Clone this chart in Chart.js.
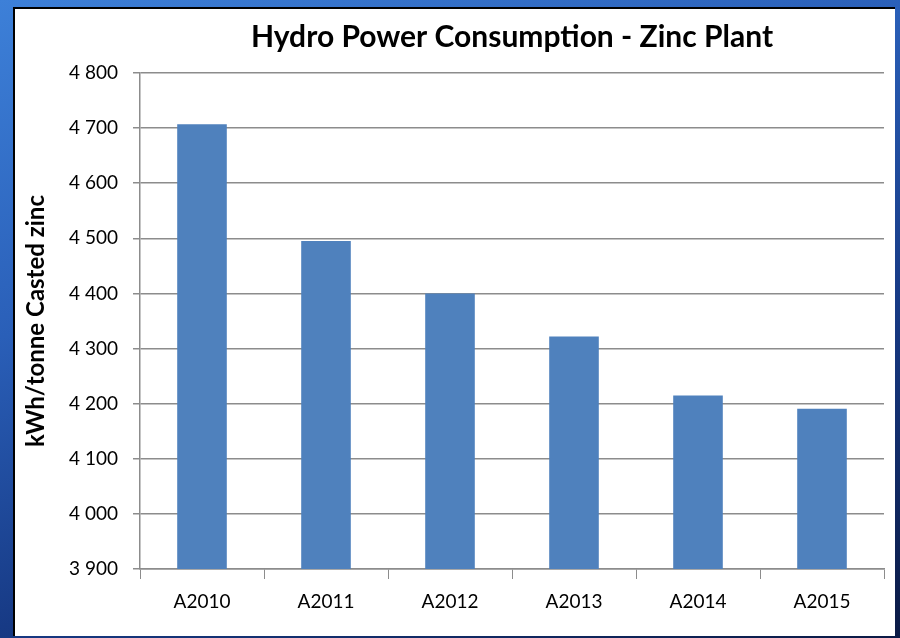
<!DOCTYPE html>
<html>
<head>
<meta charset="utf-8">
<script src="https://cdn.jsdelivr.net/npm/chart.js@4/dist/chart.umd.min.js"></script>
<style>
  html, body { margin: 0; padding: 0; }
  body {
    width: 900px; height: 638px; overflow: hidden; position: relative;
    background: linear-gradient(160deg, #3d80d8 0%, #2a5fb8 35%, #173a85 65%, #0b1a45 100%);
  }
  .panel {
    position: absolute; left: 13px; top: 7px; width: 880px; height: 627px;
    background: #fff; border-left: 2px solid #000; border-top: 2px solid #000;
  }
  canvas { display: block; }
</style>
</head>
<body>
<div class="panel"><canvas id="myChart" width="880" height="627"></canvas></div>
<script>
const years = ["A2010", "A2011", "A2012", "A2013", "A2014", "A2015"];
const consumption = [4707, 4495, 4400, 4322, 4215, 4191];
const yMin = 3900;
const yMax = 4800;
const yStep = 100;

const fontFamily = "Lato, 'Open Sans', sans-serif";
const gridColor = "#8c8c8c";

// "4 800" style thousands
const formatTick = (v) => {
    let s = String(Math.round(v));
    return s.replace(/\B(?=(\d{3})+(?!\d))/g, " ");
};

const ctx = document.getElementById('myChart');

const myChart = new Chart(ctx, {
    type: 'bar',
    data: {
        labels: years,
        datasets: [{
            data: consumption,
            backgroundColor: "#4f81bd",
            borderWidth: 0,
            barPercentage: 0.4,
            categoryPercentage: 1
        }]
    },
    options: {
        responsive: false,
        animation: false,
        layout: { padding: { left: 0, right: 11, top: 0, bottom: 0 } },
        plugins: {
            legend: { display: false },
            tooltip: { enabled: false },
            title: {
                display: true,
                fullSize: false,
                text: "Hydro Power Consumption - Zinc Plant",
                color: "#000",
                font: { family: fontFamily, size: 30, weight: 'bold' },
                padding: { top: 10, bottom: 18 }
            }
        },
        scales: {
            x: {
                grid: {
                    offset: true,
                    drawOnChartArea: false,
                    drawTicks: true,
                    tickLength: 10,
                    color: gridColor
                },
                border: { color: gridColor, width: 1.5 },
                ticks: {
                    color: "#000",
                    padding: 11,
                    font: { family: fontFamily, size: 19 }
                },
                afterFit: (axis) => { axis.height = 67; }
            },
            y: {
                min: yMin,
                max: yMax,
                grid: { color: gridColor, lineWidth: 1.5, tickLength: 7 },
                border: { color: gridColor, width: 1.5 },
                ticks: {
                    stepSize: yStep,
                    color: "#000",
                    padding: 15,
                    font: { family: fontFamily, size: 19 },
                    callback: (v) => formatTick(v)
                },
                title: {
                    display: true,
                    text: "kWh/tonne Casted zinc",
                    color: "#000",
                    font: { family: fontFamily, size: 24, weight: 'bold' },
                    padding: { top: 7, bottom: 0 }
                },
                afterFit: (axis) => { axis.width = 125; }
            }
        }
    }
});
</script>
</body>
</html>
